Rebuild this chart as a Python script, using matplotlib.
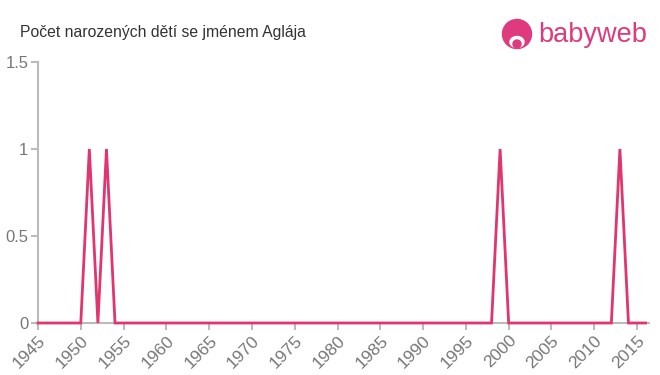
import matplotlib
matplotlib.use("Agg")
import matplotlib.pyplot as plt
from matplotlib.patches import Circle, Ellipse

years = list(range(1945, 2017))
peak_years = [1951, 1953, 1999, 2013]
counts = [1 if y in peak_years else 0 for y in years]
xticks = list(range(1945, 2020, 5))
yticks = [0, 0.5, 1, 1.5]
ytick_labels = ["0", "0.5", "1", "1.5"]

plt.rcParams['font.family'] = ['Liberation Sans', 'DejaVu Sans']

fig = plt.figure(figsize=(6.6, 3.75), dpi=100)
W, H = 660, 375
left, right, top, bottom = 38, 649, 62, 323
ax = fig.add_axes([left / W, 1 - bottom / H, (right - left) / W, (bottom - top) / H])

line_color = "#e0356d"
ax.plot(years, counts, color=line_color, lw=2, solid_joinstyle="miter", clip_on=False, zorder=3)

ax.set_xlim(1945, 2016.4)
ax.set_ylim(0, 1.5)
ax.set_xticks(xticks)
ax.set_xticklabels([str(x) for x in xticks], rotation=45, ha="right", va="top",
                   rotation_mode="anchor", fontsize=12.5, color="#777777")
ax.set_yticks(yticks)
ax.set_yticklabels(ytick_labels, fontsize=12, color="#777777")

for s in ["top", "right"]:
    ax.spines[s].set_visible(False)
for s in ["left", "bottom"]:
    ax.spines[s].set_color("#bbbbbb")
    ax.spines[s].set_linewidth(1.5)
ax.tick_params(axis="x", length=5, width=1.5, color="#bbbbbb", pad=2)
ax.tick_params(axis="y", length=5, width=1.5, color="#bbbbbb", pad=2)

fig.text(20 / W, 1 - 32 / H, "Počet narozených dětí se jménem Aglája", fontsize=11.3,
         color="#333333", va="center", ha="left")

# logo
pink = "#e03a7e"
lax = fig.add_axes([0, 0, 1, 1], facecolor="none")
lax.set_xlim(0, W)
lax.set_ylim(H, 0)
lax.axis("off")
lax.add_patch(Circle((517, 34), 14.5, color=pink))
lax.add_patch(Ellipse((517, 42), 14, 11, color="white"))
lax.add_patch(Circle((517, 44), 4, color=pink))
lax.text(538, 35, "babyweb", fontsize=19.5, color=pink, va="center", ha="left",
         fontweight="normal")

fig.savefig("out.png", dpi=100)
